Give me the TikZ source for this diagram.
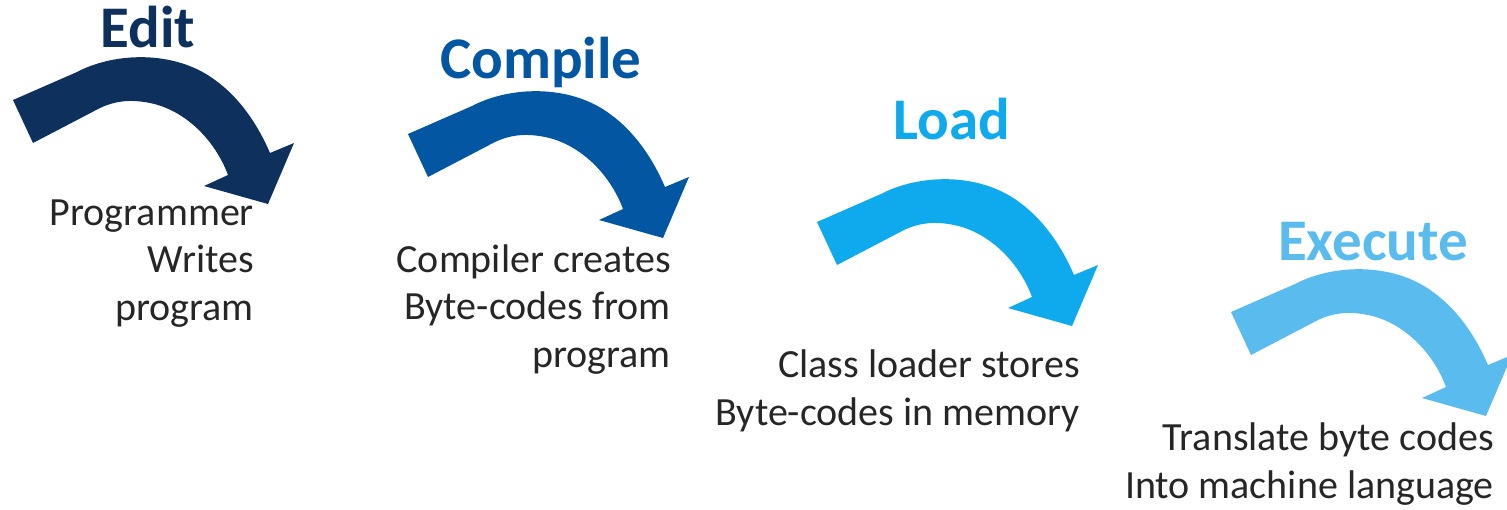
\documentclass[tikz,border=0pt]{standalone}
\usepackage{fontspec}
\setmainfont{Carlito}
\usepackage{xcolor}
\definecolor{editblue}{HTML}{0D305C}
\definecolor{compileblue}{HTML}{0357A2}
\definecolor{loadblue}{HTML}{0FAAEE}
\definecolor{execblue}{HTML}{5ABCEE}
\definecolor{notegray}{HTML}{262626}
% bent block arrow, #1 = colour, (#2,#3) = upper corner of its tail
\newcommand{\bentarrow}[3]{%
	\fill[#1, shift={(#2,#3)}]
	(0, 0) -- (64, -28)
	.. controls (102, -48) and (162, -50) .. (202, -20)
	.. controls (227, -2) and (245, 25) .. (257, 53)
	-- (281, 43) -- (255, 104) -- (191, 86) -- (215, 75)
	.. controls (202, 40) and (172, 10) .. (137, 3)
	.. controls (117, -1) and (102, 1) .. (87, 8)
	-- (20, 43) -- cycle;}

\begin{document}
\begin{tikzpicture}[x=1pt, y=-1pt,
		steptitle/.style={font=\fontsize{59}{70}\selectfont\bfseries, anchor=base, inner sep=0},
		stepnote/.style={font=\fontsize{40}{47.5}\selectfont, text=notegray, align=right, anchor=base east, inner sep=0}]
	\useasboundingbox (0, 0) rectangle (1507, 509);
	\clip (0, 0) rectangle (1507, 509);
	\bentarrow{editblue}{13}{100}
	\bentarrow{compileblue}{408}{134}
	\bentarrow{loadblue}{817}{222}
	\bentarrow{execblue}{1231}{312}
	\node[steptitle, text=editblue] (edit) at (148, 47) {Edit};
	\node[steptitle, text=compileblue] (compile) at (541, 78) {Compile};
	\node[steptitle, text=loadblue] (load) at (952, 139) {Load};
	\node[steptitle, text=execblue] (execute) at (1373, 260) {Execute};
	% base east sits on the last line
	\node[stepnote] (editnote) at (254, 320) {Programmer\\Writes\\program};
	\node[stepnote] (compilenote) at (671, 367) {Compiler creates\\Byte-codes from\\program};
	\node[stepnote] (loadnote) at (1080, 425) {Class loader stores\\Byte-codes in memory};
	\node[stepnote] (executenote) at (1494, 498) {Translate byte codes\\Into machine language};
\end{tikzpicture}
\end{document}
